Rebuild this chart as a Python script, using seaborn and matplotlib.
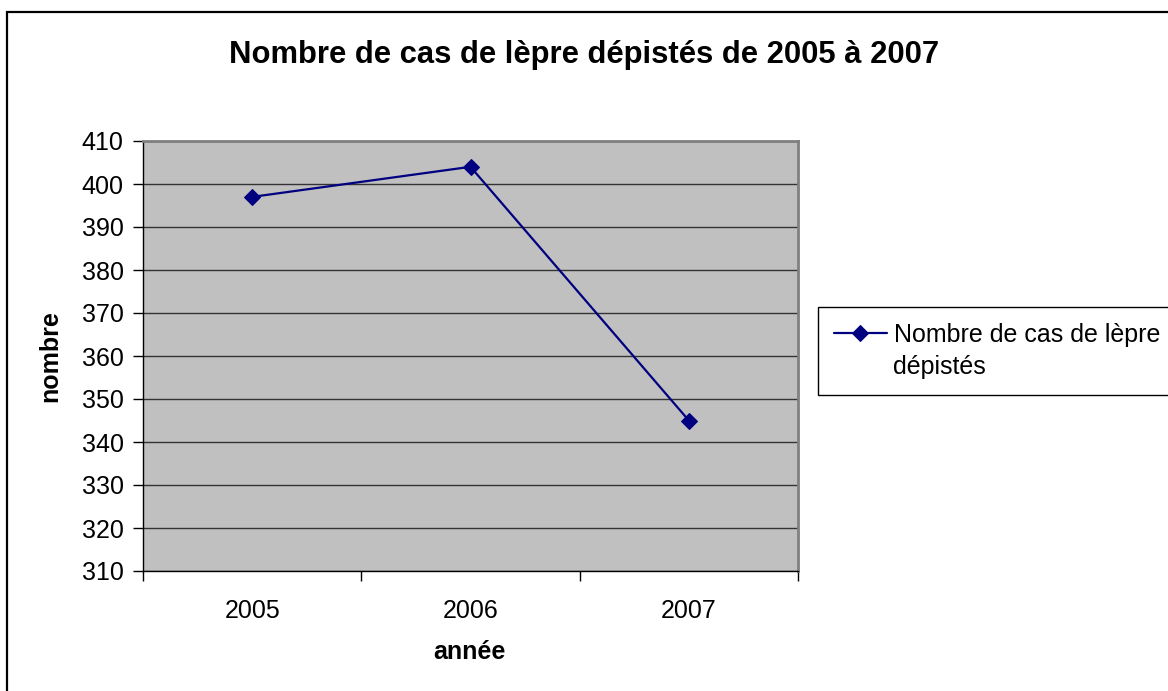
import pandas as pd
import matplotlib
matplotlib.use('Agg')
import matplotlib.pyplot as plt
from matplotlib.patches import Rectangle
from matplotlib.lines import Line2D
import seaborn as sns

# données
annees = ['2005', '2006', '2007']
nombre_cas = [397, 404, 345]
y_ticks = list(range(310, 420, 10))

titre = 'Nombre de cas de lèpre dépistés de 2005 à 2007'
label_serie = ['Nombre de cas de lèpre', 'dépistés']

sns.set_style('white')
plt.rcParams['font.family'] = ['Liberation Sans', 'DejaVu Sans']
plt.rcParams['text.color'] = 'black'
plt.rcParams['axes.labelcolor'] = 'black'
plt.rcParams['xtick.color'] = 'black'
plt.rcParams['ytick.color'] = 'black'

df = pd.DataFrame({'annee': annees, 'nombre': nombre_cas})

W, H = 1168, 691
fig = plt.figure(figsize=(W / 100, H / 100), dpi=100)
fig.patch.set_facecolor('white')

# zone de tracé (pixels : 143..798 x 141..571)
ax = fig.add_axes([143 / W, 1 - 571 / H, (798 - 143) / W, (571 - 141) / H])
ax.set_facecolor('#C0C0C0')

sns.lineplot(data=df, x='annee', y='nombre', ax=ax, color='#000080',
             marker='D', markersize=8, markeredgecolor='#000080',
             linewidth=1.6, sort=False)

ax.set_ylim(310, 410)
ax.set_xlim(-0.5, len(annees) - 0.5)
ax.set_yticks(y_ticks)
ax.set_yticklabels([str(v) for v in y_ticks], fontsize=18)
ax.yaxis.grid(True, color='#333333', linewidth=1)
ax.set_axisbelow(True)

# catégories au centre, graduations entre les catégories
ax.set_xticks(range(len(annees)))
ax.set_xticklabels(annees, fontsize=18)
ax.set_xticks([i - 0.5 for i in range(len(annees) + 1)], minor=True)
ax.tick_params(axis='x', which='major', bottom=True, length=0, pad=20)
ax.tick_params(axis='x', which='minor', bottom=True, length=7, width=1, direction='out')
ax.tick_params(axis='y', left=True, length=7, width=1, direction='out', pad=7)

for s in ['left', 'bottom']:
    ax.spines[s].set_color('black')
    ax.spines[s].set_linewidth(1)
for s in ['top', 'right']:
    ax.spines[s].set_color('#808080')
    ax.spines[s].set_linewidth(2)

ax.set_xlabel('année', fontsize=18, fontweight='bold')
ax.set_ylabel('nombre', fontsize=18, fontweight='bold')
ax.xaxis.set_label_coords((469 - 143) / (798 - 143), (571 - 640) / (571 - 141))
ax.yaxis.set_label_coords((62 - 143) / (798 - 143), 0.5)

fig.text(584 / W, 1 - 55 / H, titre, ha='center', va='center',
         fontsize=22.3, fontweight='bold')

# légende : symbole sur la première ligne du libellé
serie = ax.get_lines()[0]
vide = Line2D([], [], linestyle='none')
leg = fig.legend([serie, vide], label_serie, loc='upper left',
                 bbox_to_anchor=(818 / W, 1 - 307 / H),
                 borderaxespad=0, fontsize=18, frameon=True, fancybox=False,
                 edgecolor='black', framealpha=1, handlelength=2.15,
                 handletextpad=0.25, borderpad=0.62, labelspacing=0.35)
leg.get_frame().set_linewidth(1)

# cadre du graphique
cadre = Rectangle((7 / W, -0.1), 1.2, 1 - 12 / H + 0.1, transform=fig.transFigure,
                  fill=False, edgecolor='black', linewidth=1.6, clip_on=False)
fig.patches.append(cadre)

fig.savefig('out.png', dpi=100)
